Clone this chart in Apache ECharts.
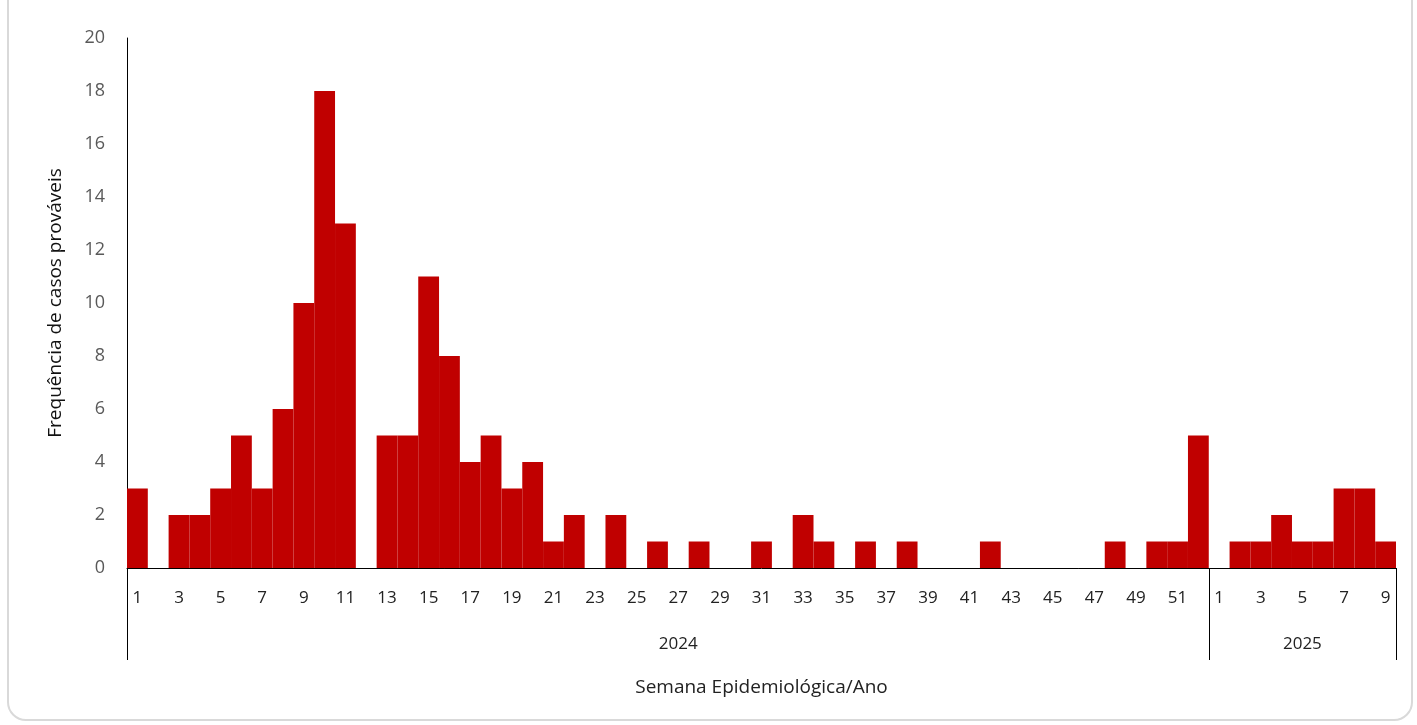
<!DOCTYPE html>
<html><head><meta charset="utf-8">
<script src="https://cdn.jsdelivr.net/npm/echarts@6/dist/echarts.min.js"></script>
<style>html,body{margin:0;background:#fff}#c{width:1417px;height:725px}</style>
</head><body><div id="c"></div>
<script>
// weekly probable cases, 2024 weeks 1-52 then 2025 weeks 1-9
const cases2024 = [3,0,2,2,3,5,3,6,10,18,13,0,5,5,11,8,4,5,3,4,1,2,0,2,0,1,0,1,0,0,1,0,2,1,0,1,0,1,0,0,0,1,0,0,0,0,0,1,0,1,1,5];
const cases2025 = [0,1,1,2,1,1,3,3,1];
const years = ['2024', '2025'];

const weeks = cases2024.map((v, i) => String(i + 1))
  .concat(cases2025.map((v, i) => String(i + 1)));
const values = cases2024.concat(cases2025);
const yearLabels = weeks.map((w, i) => (i === 26 ? years[0] : i === 56 ? years[1] : ''));
const split = cases2024.length;

const chart = echarts.init(document.getElementById('c'));
const font = 'Open Sans, Liberation Sans, sans-serif';
chart.setOption({
  animation: false,
  graphic: [{
    type: 'rect', shape: { x: 8, y: -20, width: 1404, height: 740, r: 18 },
    style: { fill: 'none', stroke: '#d9d9d9', lineWidth: 2 }
  }],
  grid: { left: 127, right: 21, top: 38, bottom: 157 },
  xAxis: [{
    type: 'category', data: weeks,
    axisLine: { lineStyle: { color: '#000', width: 1 } },
    axisTick: { show: false },
    axisLabel: { interval: 1, color: '#222', fontSize: 17, fontFamily: font, margin: 22 }
  }, {
    type: 'category', data: yearLabels, position: 'bottom',
    axisLine: { show: false },
    axisTick: { show: true, length: 92, interval: (i) => i === 0 || i === split,
      lineStyle: { color: '#000' } },
    axisLabel: { interval: 0, color: '#222', fontSize: 17, fontFamily: font, margin: 68 },
    name: 'Semana Epidemiológica/Ano', nameLocation: 'middle', nameGap: 110,
    nameTextStyle: { color: '#222', fontSize: 19, fontFamily: font }
  }],
  yAxis: {
    type: 'value', min: 0, max: 20, interval: 2,
    axisLine: { show: true, lineStyle: { color: '#000' } },
    axisTick: { show: false },
    splitLine: { show: false },
    axisLabel: { color: '#595959', fontSize: 18, fontFamily: font, margin: 22 },
    name: 'Frequência de casos prováveis', nameLocation: 'middle', nameGap: 62,
    nameTextStyle: { color: '#111', fontSize: 19, fontFamily: font }
  },
  series: [{
    type: 'bar', data: values, barCategoryGap: 0,
    itemStyle: { color: '#c00000' }
  }]
});
</script></body></html>
